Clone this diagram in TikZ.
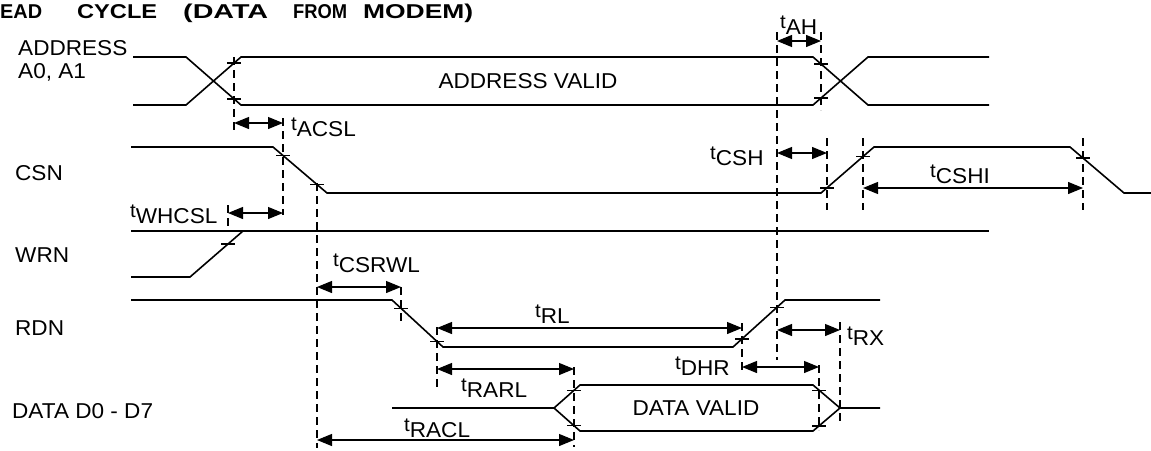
\documentclass[tikz,border=0pt]{standalone}
\usepackage{fontspec}
\usepackage{graphicx}
\setmainfont[FakeStretch=1.05]{Liberation Sans}
\newfontfamily\plainsans{Liberation Sans}
\usetikzlibrary{arrows.meta}
\newcommand\tsub[1]{{\fontsize{19.5}{19.5}\selectfont\raisebox{6pt}{t}}#1}
\newcommand\tk[2]{\draw[tickmark] (#1,#2) ++(-7,0) -- ++(14,0);}
\newcommand\tw[2]{\makebox[0pt][l]{\resizebox{#1}{\height}{#2}}}
\tikzset{
  sig/.style={line width=1.6pt, line join=miter},
  guide/.style={line width=1.8pt, dash pattern=on 8pt off 5pt},
  dim/.style={line width=1.2pt, {Triangle[length=15pt,width=12pt]}-{Triangle[length=15pt,width=12pt]}},
  tickmark/.style={line width=1.2pt},
  lab/.style={font=\fontsize{21.5}{23}\selectfont, inner sep=0pt},
  ttl/.style={font=\plainsans\fontsize{20}{22}\selectfont\bfseries, inner sep=0pt}
}
\begin{document}
\begin{tikzpicture}[x=1pt,y=-1pt]
\useasboundingbox (0,0) rectangle (1151,450);
% title
\node[ttl, anchor=base west, text width=480pt] (title) at (0,18) {%
\tw{42pt}{EAD}\hspace*{77pt}\tw{80pt}{CYCLE}\hspace*{106pt}\tw{85pt}{(DATA}\hspace*{110pt}\tw{54pt}{FROM}\hspace*{70pt}\tw{110pt}{MODEM)}};
% signal names
\node[lab, anchor=base west, align=left] (addr) at (18,78) {ADDRESS\\A0, A1};
\node[lab, anchor=base west] (csn) at (15,180) {CSN};
\node[lab, anchor=base west] (wrn) at (15,262) {WRN};
\node[lab, anchor=base west] (rdn) at (15,335) {RDN};
\node[lab, anchor=base west] (data) at (12,418) {DATA D0 - D7};
% ADDRESS
\draw[sig] (133,57) -- (186,57) -- (241,105) -- (813,105) -- (868,57) -- (989,57);
\draw[sig] (133,105) -- (186,105) -- (241,57) -- (813,57) -- (868,105) -- (989,105);
\node[lab, anchor=base] (av) at (528,88) {ADDRESS VALID};
% CSN
\draw[sig] (131,147) -- (273,147) -- (327,193) -- (821,193) -- (874,147) -- (1070,147) -- (1124,193) -- (1151,193);
% WRN
\draw[sig] (131,231) -- (989,231);
\draw[sig] (131,277) -- (190,277) -- (243,231);
% RDN
\draw[sig] (131,300) -- (392,300) -- (443,347) -- (733,347) -- (785,300) -- (880,300);
% DATA
\draw[sig] (392,408) -- (554,408) -- (580,385) -- (813,385) -- (840,408) -- (880,408);
\draw[sig] (554,408) -- (580,431) -- (813,431) -- (840,408);
\node[lab, anchor=base] (dv) at (696,415) {DATA VALID};
% guides
\draw[guide] (234,57) -- (234,130);
\draw[guide] (283,118) -- (283,215);
\draw[guide] (228,205) -- (228,232);
\draw[guide] (317,183) -- (317,448);
\draw[guide] (777,32) -- (777,360);
\draw[guide] (821,32) -- (821,110);
\draw[guide] (827,138) -- (827,210);
\draw[guide] (863,138) -- (863,210);
\draw[guide] (1083,138) -- (1083,210);
\draw[guide] (401,287) -- (401,322);
\draw[guide] (437,327) -- (437,387);
\draw[guide] (742,323) -- (742,372);
\draw[guide] (840,322) -- (840,422);
\draw[guide] (819,365) -- (819,430);
\draw[guide] (574,367) -- (574,447);
% ticks
\tk{234}{63}\tk{234}{99}\tk{821}{64}\tk{821}{98}
\tk{283}{155.5}\tk{317}{184.5}\tk{827}{188}\tk{863}{156.5}\tk{1083}{158}
\tk{228}{244}
\tk{401}{308.3}\tk{437}{341.5}\tk{742}{339}\tk{777}{307.2}
\tk{574}{390.3}\tk{574}{425.7}\tk{819}{390.1}\tk{819}{425.9}
% dimensions
\draw[dim] (777,41) -- (821,41);
\draw[dim] (234,123) -- (283,123);
\draw[dim] (777,153) -- (827,153);
\draw[dim] (863,188) -- (1083,188);
\draw[dim] (228,213) -- (283,213);
\draw[dim] (317,287) -- (401,287);
\draw[dim] (437,328) -- (742,328);
\draw[dim] (777,330) -- (840,330);
\draw[dim] (742,367) -- (819,367);
\draw[dim] (437,369) -- (574,369);
\draw[dim] (317,440) -- (574,440);
% timing labels
\node[lab, anchor=base west] (tah) at (780,34) {\tsub{AH}};
\node[lab, anchor=base west] (tacsl) at (291,136) {\tsub{ACSL}};
\node[lab, anchor=base west] (tcsh) at (710,165) {\tsub{CSH}};
\node[lab, anchor=base west] (tcshi) at (930,183) {\tsub{CSHI}};
\node[lab, anchor=base west] (twhcsl) at (130,223) {\tsub{WHCSL}};
\node[lab, anchor=base west] (tcsrwl) at (333,272) {\tsub{CSRWL}};
\node[lab, anchor=base west] (trl) at (535,323) {\tsub{RL}};
\node[lab, anchor=base west] (tdhr) at (675,375) {\tsub{DHR}};
\node[lab, anchor=base west] (trx) at (847,345) {\tsub{RX}};
\node[lab, anchor=base west] (trarl) at (461,397) {\tsub{RARL}};
\node[lab, anchor=base west] (tracl) at (404,437) {\tsub{RACL}};
\end{tikzpicture}
\end{document}
